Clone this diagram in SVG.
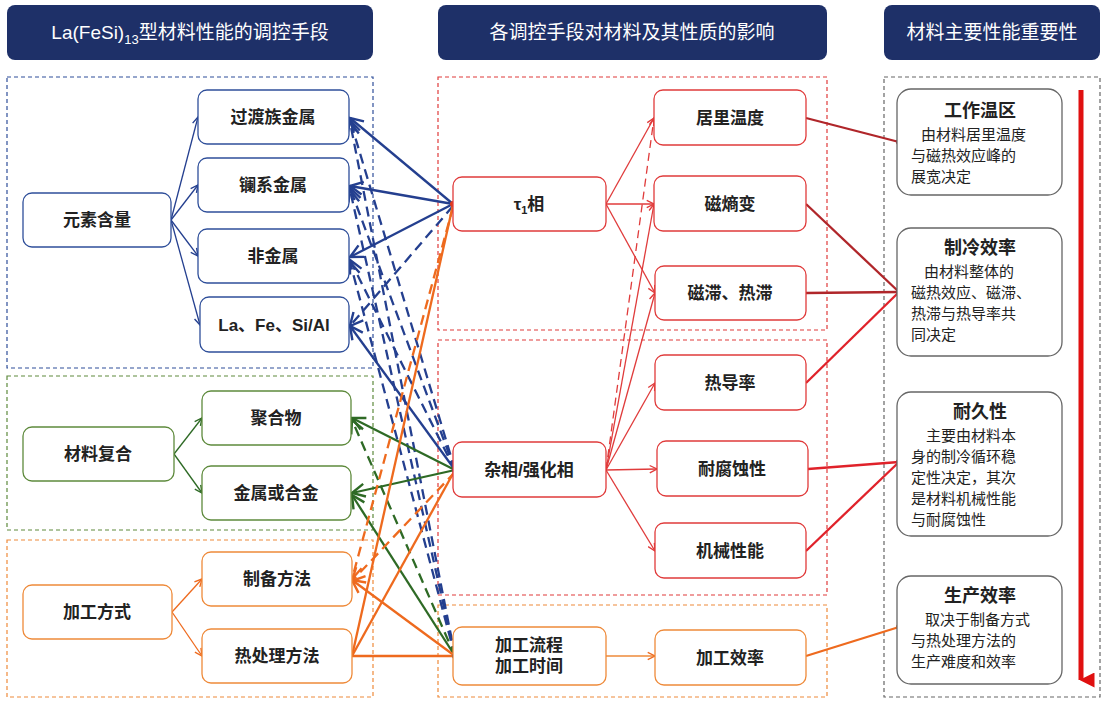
<svg xmlns="http://www.w3.org/2000/svg" width="1107" height="703" viewBox="0 0 1107 703">
<defs>
<style>
text{font-family:"Liberation Sans","Noto Sans CJK SC",sans-serif;fill:#222;}
.hd{fill:#fff;font-size:19px;text-anchor:middle}
.n{font-size:17px;text-anchor:middle;font-weight:bold}
.t{font-size:18px;text-anchor:middle;font-weight:bold}
.b{font-size:15px}
.box{fill:#fff;stroke-width:1.3}
.bl{stroke:#2f4f9a}.gr{stroke:#5e8a3c}.or{stroke:#ee8a3a}.rd{stroke:#e03b3b}.gy{stroke:#666}
.grp{fill:none;stroke-width:1.2;stroke-dasharray:4 3}
</style>
<marker id="ab" viewBox="0 0 10 10" refX="9" refY="5" markerWidth="7" markerHeight="7" orient="auto-start-reverse"><path d="M1,1L9,5L1,9" fill="none" stroke="#243f8f" stroke-width="1.5"/></marker>
<marker id="ag" viewBox="0 0 10 10" refX="9" refY="5" markerWidth="7" markerHeight="7" orient="auto-start-reverse"><path d="M1,1L9,5L1,9" fill="none" stroke="#2e6a25" stroke-width="1.5"/></marker>
<marker id="ao" viewBox="0 0 10 10" refX="9" refY="5" markerWidth="7" markerHeight="7" orient="auto-start-reverse"><path d="M1,1L9,5L1,9" fill="none" stroke="#ee6a1e" stroke-width="1.5"/></marker>
<marker id="ar" viewBox="0 0 10 10" refX="9" refY="5" markerWidth="7" markerHeight="7" orient="auto-start-reverse"><path d="M1,1L9,5L1,9" fill="none" stroke="#e03b3b" stroke-width="1.5"/></marker>
<marker id="big" viewBox="0 0 10 10" refX="5" refY="9" markerWidth="3" markerHeight="3" orient="auto"><path d="M0,0L10,0L5,10Z" fill="#e01010"/></marker>
</defs>
<rect width="1107" height="703" fill="#fff"/>
<g id="headers">
<rect x="7" y="5" width="366" height="55" rx="8" fill="#1e3068"/>
<text class="hd" x="190" y="39">La(FeSi)<tspan font-size="13" dy="5">13</tspan><tspan dy="-5">型材料性能的调控手段</tspan></text>
<rect x="438" y="5" width="389" height="55" rx="8" fill="#1e3068"/>
<text class="hd" x="632" y="39">各调控手段对材料及其性质的影响</text>
<rect x="884" y="5" width="216" height="55" rx="8" fill="#1e3068"/>
<text class="hd" x="992" y="39">材料主要性能重要性</text>
</g>
<g id="groups">
<rect class="grp bl" x="7" y="77" width="366" height="291"/>
<rect class="grp gr" x="7" y="376" width="366" height="154"/>
<rect class="grp or" x="7" y="540" width="366" height="157"/>
<rect class="grp rd" x="438" y="77" width="389" height="253"/>
<rect class="grp rd" x="438" y="340" width="389" height="255"/>
<rect class="grp or" x="438" y="605" width="389" height="92"/>
<rect class="grp gy" x="884" y="77" width="216" height="620" stroke="#333"/>
</g>
<g id="connectors" fill="none">
<g stroke="#243f8f" stroke-width="1.3" marker-end="url(#ab)">
<path d="M171,220L198,117"/><path d="M171,220L198,185"/><path d="M171,220L198,256"/><path d="M171,220L200,325"/>
</g>
<g stroke="#2e6a25" stroke-width="1.3" marker-end="url(#ag)"><path d="M174,454L202,418"/><path d="M174,454L202,493"/></g>
<g stroke="#ee6a1e" stroke-width="1.3" marker-end="url(#ao)"><path d="M172,612L202,579"/><path d="M172,612L202,656"/></g>
<g stroke="#243f8f" stroke-width="2.3" marker-end="url(#ab)">
<path d="M453,204L350,118"/><path d="M453,204L350,186"/><path d="M453,204L350,257"/><path d="M455,470L350,326"/>
</g>
<g stroke="#243f8f" stroke-width="2.3" stroke-dasharray="10 6" marker-end="url(#ab)">
<path d="M455,470L350,120"/><path d="M455,656L350,122"/><path d="M455,470L350,188"/><path d="M455,656L350,190"/><path d="M455,470L350,260"/><path d="M455,656L350,262"/><path d="M453,206L350,326"/>
</g>
<g stroke="#2e6a25" stroke-width="2.3" marker-end="url(#ag)"><path d="M455,470L352,418"/><path d="M455,470L352,493"/><path d="M455,656L352,495"/></g>
<path d="M455,656L352,420" stroke="#2e6a25" stroke-width="2.3" stroke-dasharray="10 6" marker-end="url(#ag)"/>
<g stroke="#ee6a1e" stroke-width="2.3">
<path d="M352,656L453,205"/><path d="M352,656L455,470"/><path d="M352,656L455,656"/><path d="M455,656L352,580" marker-end="url(#ao)"/>
</g>
<g stroke="#ee6a1e" stroke-width="2.3" stroke-dasharray="10 6" marker-end="url(#ao)"><path d="M453,207L352,579"/><path d="M455,472L352,581"/></g>
<g stroke="#e03b3b" stroke-width="1.3" marker-end="url(#ar)">
<path d="M606,204L654,118"/><path d="M606,204L654,204"/><path d="M606,204L655,293"/>
<path d="M606,470L654,204"/><path d="M606,470L655,293"/><path d="M606,470L655,383"/><path d="M606,470L657,469"/><path d="M606,470L655,551"/>
<path d="M606,470L654,118" stroke-dasharray="8 5"/>
</g>
<path d="M606,656L655,656" stroke="#ee8a3a" stroke-width="1.3" marker-end="url(#ao)"/>
<g stroke-width="2.3">
<path d="M806,118L899,142" stroke="#b0262a"/><path d="M806,204L899,292" stroke="#b0262a"/><path d="M806,293L899,292" stroke="#b0262a"/><path d="M806,383L899,292" stroke="#e0222a"/>
<path d="M808,469L899,462" stroke="#e0222a"/><path d="M806,551L899,462" stroke="#e0222a"/><path d="M806,656L899,627" stroke="#ee6a1e"/>
</g>
<g fill="#b0262a"><circle cx="453" cy="204" r="3" fill="#e03b1b"/><circle cx="455" cy="470" r="3" fill="#333366"/><circle cx="455" cy="656" r="3" fill="#333366"/>
<circle cx="899" cy="142" r="3"/><circle cx="899" cy="292" r="3"/><circle cx="899" cy="462" r="3" fill="#e0222a"/><circle cx="899" cy="627" r="3" fill="#ee6a1e"/></g>
<path d="M1081,90L1081,680" stroke="#e01010" stroke-width="5" marker-end="url(#big)"/>
</g>
<g id="n-yuansu"><rect class="box bl" x="23" y="193" width="148" height="54" rx="9"/><text class="n" x="97" y="226">元素含量</text></g>
<g id="n-guodu"><rect class="box bl" x="198" y="90" width="151" height="54" rx="9"/><text class="n" x="273" y="123">过渡族金属</text></g>
<g id="n-lanxi"><rect class="box bl" x="198" y="158" width="151" height="54" rx="9"/><text class="n" x="273" y="191">镧系金属</text></g>
<g id="n-feijin"><rect class="box bl" x="198" y="229" width="151" height="54" rx="9"/><text class="n" x="273" y="262">非金属</text></g>
<g id="n-la"><rect class="box bl" x="200" y="297" width="149" height="55" rx="9"/><text class="n" x="274" y="331">La、Fe、Si/Al</text></g>
<g id="n-fuhe"><rect class="box gr" x="23" y="427" width="151" height="54" rx="9"/><text class="n" x="98" y="460">材料复合</text></g>
<g id="n-juhe"><rect class="box gr" x="202" y="391" width="149" height="54" rx="9"/><text class="n" x="276" y="424">聚合物</text></g>
<g id="n-jinshu"><rect class="box gr" x="202" y="466" width="149" height="54" rx="9"/><text class="n" x="276" y="499">金属或合金</text></g>
<g id="n-jiagong"><rect class="box or" x="23" y="585" width="149" height="54" rx="9"/><text class="n" x="97" y="618">加工方式</text></g>
<g id="n-zhibei"><rect class="box or" x="202" y="552" width="150" height="54" rx="9"/><text class="n" x="277" y="585">制备方法</text></g>
<g id="n-rechuli"><rect class="box or" x="202" y="629" width="150" height="54" rx="9"/><text class="n" x="277" y="662">热处理方法</text></g>
<g id="n-tau"><rect class="box rd" x="453" y="177" width="153" height="54" rx="9"/><text class="n" x="529" y="210">τ<tspan font-size="11" dy="4">1</tspan><tspan dy="-4">相</tspan></text></g>
<g id="n-zaxiang"><rect class="box rd" x="453" y="442" width="153" height="55" rx="9"/><text class="n" x="529" y="476">杂相/强化相</text></g>
<g id="n-liucheng"><rect class="box or" x="453" y="627" width="153" height="58" rx="9"/><text class="n" x="529" y="651">加工流程</text><text class="n" x="529" y="672">加工时间</text></g>
<g id="n-juli"><rect class="box rd" x="654" y="90" width="152" height="55" rx="9"/><text class="n" x="730" y="124">居里温度</text></g>
<g id="n-cishang"><rect class="box rd" x="654" y="176" width="152" height="55" rx="9"/><text class="n" x="730" y="210">磁熵变</text></g>
<g id="n-cizhi"><rect class="box rd" x="655" y="266" width="151" height="54" rx="9"/><text class="n" x="730" y="299">磁滞、热滞</text></g>
<g id="n-redao"><rect class="box rd" x="655" y="355" width="151" height="55" rx="9"/><text class="n" x="730" y="389">热导率</text></g>
<g id="n-naifu"><rect class="box rd" x="657" y="441" width="151" height="55" rx="9"/><text class="n" x="732" y="475">耐腐蚀性</text></g>
<g id="n-jixie"><rect class="box rd" x="655" y="523" width="151" height="55" rx="9"/><text class="n" x="730" y="557">机械性能</text></g>
<g id="n-xiaolv"><rect class="box or" x="655" y="630" width="151" height="55" rx="9"/><text class="n" x="730" y="664">加工效率</text></g>
<g id="n-wenqu"><rect class="box gy" x="897" y="89" width="165" height="106" rx="14"/><text class="t" x="980" y="117">工作温区</text>
<text class="b" x="921" y="140">由材料居里温度</text><text class="b" x="911" y="161">与磁热效应峰的</text><text class="b" x="911" y="182">展宽决定</text></g>
<g id="n-zhileng"><rect class="box gy" x="897" y="228" width="165" height="128" rx="14"/><text class="t" x="980" y="254">制冷效率</text>
<text class="b" x="924" y="277">由材料整体的</text><text class="b" x="911" y="298">磁热效应、磁滞、</text><text class="b" x="911" y="319">热滞与热导率共</text><text class="b" x="911" y="340">同决定</text></g>
<g id="n-naijiu"><rect class="box gy" x="897" y="392" width="165" height="144" rx="14"/><text class="t" x="980" y="418">耐久性</text>
<text class="b" x="926" y="441">主要由材料本</text><text class="b" x="911" y="462">身的制冷循环稳</text><text class="b" x="911" y="483">定性决定，其次</text><text class="b" x="911" y="504">是材料机械性能</text><text class="b" x="911" y="525">与耐腐蚀性</text></g>
<g id="n-shengchan"><rect class="box gy" x="897" y="576" width="165" height="108" rx="14"/><text class="t" x="980" y="602">生产效率</text>
<text class="b" x="925" y="625">取决于制备方式</text><text class="b" x="911" y="646">与热处理方法的</text><text class="b" x="911" y="667">生产难度和效率</text></g>
</svg>
